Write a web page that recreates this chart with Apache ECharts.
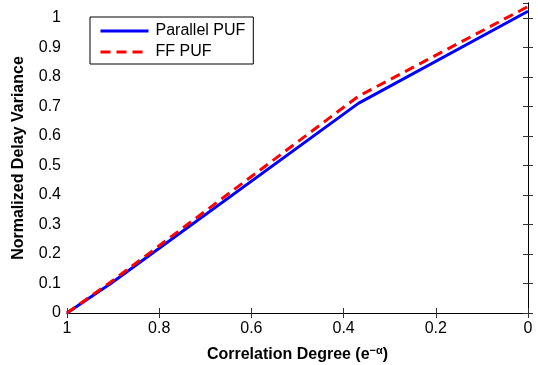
<!DOCTYPE html>
<html><head><meta charset="utf-8">
<script src="https://cdn.jsdelivr.net/npm/echarts@6/dist/echarts.min.js"></script>
<style>html,body{margin:0;padding:0;background:#fff}#c{width:538px;height:365px}</style>
</head><body><div id="c"></div>
<script>
const xValues = [1, 0.905, 0.368, 0];
const parallelPUF = [0, 0.10, 0.71, 1.022];
const ffPUF = [0, 0.105, 0.734, 1.038];
const xTicks = [1, 0.8, 0.6, 0.4, 0.2, 0];
const seriesNames = ['Parallel PUF', 'FF PUF'];

const font = 'Liberation Sans, Arial, Helvetica, sans-serif';
const chart = echarts.init(document.getElementById('c'));
const pairs = (ys) => xValues.map((x, i) => [x, ys[i]]);
const axisCommon = {
  axisLine: {show: true, lineStyle: {color: '#000', width: 1}},
  axisTick: {show: true, inside: true, length: 5, lineStyle: {color: '#333'}},
  splitLine: {show: false}
};
chart.setOption({
  animation: false,
  backgroundColor: '#fff',
  grid: {left: 67, right: 10, top: 3, bottom: 52, outerBoundsMode: 'none', containLabel: false},
  legend: {
    orient: 'vertical', left: 90, top: 17,
    padding: [6, 8, 4, 9], itemGap: 5,
    itemWidth: 48, itemHeight: 16,
    borderColor: '#000', borderWidth: 1, backgroundColor: '#fff',
    itemStyle: {color: 'transparent', borderWidth: 0, opacity: 0},
    lineStyle: {width: 3},
    textStyle: {fontFamily: font, fontSize: 16, color: '#000', padding: [0, 0, 0, 2]},
    data: seriesNames
  },
  xAxis: [
    Object.assign({type: 'value', min: 0, max: 1, interval: 0.2, inverse: true,
      name: '{a|Correlation Degree (e}{s|\u2212\u03b1}{a|)}', nameLocation: 'middle', nameGap: 32,
      nameTextStyle: {rich: {
        a: {fontFamily: font, fontSize: 16, fontWeight: 'bold', color: '#000'},
        s: {fontFamily: font, fontSize: 11, fontWeight: 'bold', color: '#000', verticalAlign: 'top', padding: [0,0,9,0]}
      }},
      axisLabel: {fontFamily: font, fontSize: 16, color: '#000', margin: 8,
        formatter: v => xTicks.indexOf(v) >= 0 ? String(v) : ''}
    }, axisCommon),
    Object.assign({type: 'value', min: 0, max: 1, interval: 0.2, inverse: true, position: 'top',
      axisLabel: {show: false}}, axisCommon)
  ],
  yAxis: [
    Object.assign({type: 'value', min: 0, max: 1.05, interval: 0.1,
      name: 'Normalized Delay Variance', nameLocation: 'middle', nameGap: 40,
      nameTextStyle: {fontFamily: font, fontSize: 16, fontWeight: 'bold', color: '#000'},
      axisLabel: {fontFamily: font, fontSize: 16, color: '#000', margin: 6, showMaxLabel: false,
        formatter: v => (Math.abs(v - Math.round(v*10)/10) < 1e-9 && v <= 1.0001) ? String(Math.round(v*10)/10) : ''}
    }, axisCommon),
    Object.assign({type: 'value', min: 0, max: 1.05, interval: 0.1, position: 'right',
      axisLabel: {show: false}}, axisCommon)
  ],
  series: [
    {name: seriesNames[0], type: 'line', data: pairs(parallelPUF), symbol: 'none',
      lineStyle: {color: '#0000ff', width: 3}, itemStyle: {color: '#0000ff'}, z: 2},
    {name: seriesNames[1], type: 'line', data: pairs(ffPUF), symbol: 'none',
      lineStyle: {color: '#ff0000', width: 3, type: [10, 6]}, itemStyle: {color: '#ff0000'}, z: 3}
  ]
});
</script></body></html>
